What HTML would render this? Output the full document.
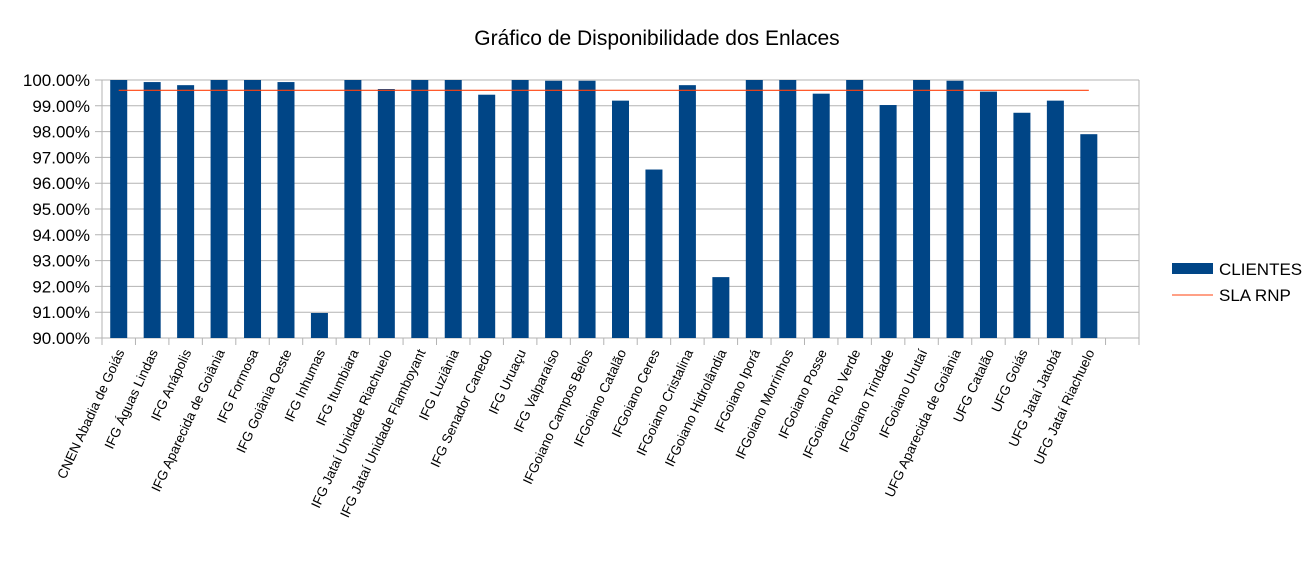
<!DOCTYPE html>
<html><head><meta charset="utf-8"><style>
body{margin:0;background:#fff;font-family:"Liberation Sans",sans-serif}
svg text{font-family:"Liberation Sans",sans-serif;fill:#000}
</style></head><body>
<svg width="1315" height="564">
<text x="657" y="45" font-size="21" text-anchor="middle">Gráfico de Disponibilidade dos Enlaces</text>
<g id="grid"></g><g id="bars"></g><g id="labels"></g>
<g>
<rect x="1172" y="263" width="41" height="11" fill="#004586"/>
<text x="1219" y="275" font-size="17">CLIENTES</text>
<line x1="1172" y1="295" x2="1213" y2="295" stroke="#ff420e" stroke-width="1"/>
<text x="1219" y="301" font-size="17">SLA RNP</text>
</g>
</svg>
<script>
const categories=["CNEN Abadia de Goiás","IFG Águas Lindas","IFG Anápolis","IFG Aparecida de Goiânia","IFG Formosa","IFG Goiânia Oeste","IFG Inhumas","IFG Itumbiara","IFG Jataí Unidade Riachuelo","IFG Jataí Unidade Flamboyant","IFG Luziânia","IFG Senador Canedo","IFG Uruaçu","IFG Valparaíso","IFGoiano Campos Belos","IFGoiano Catalão","IFGoiano Ceres","IFGoiano Cristalina","IFGoiano Hidrolândia","IFGoiano Iporá","IFGoiano Morrinhos","IFGoiano Posse","IFGoiano Rio Verde","IFGoiano Trindade","IFGoiano Urutaí","UFG Aparecida de Goiânia","UFG Catalão","UFG Goiás","UFG Jataí Jatobá","UFG Jataí Riachuelo"];
const clientes=[100,99.92,99.8,100,100,99.92,90.97,100,99.65,100,100,99.43,100,99.97,99.97,99.2,96.53,99.8,92.36,100,100,99.47,100,99.03,100,99.97,99.55,98.73,99.2,97.9];
const slaRnp=99.6;
const yTicks=[90,91,92,93,94,95,96,97,98,99,100];
const NS="http://www.w3.org/2000/svg";
const L=102,R=1139,T=80,B=338,slots=31,sw=(R-L)/slots;
const y=v=>B-(v-90)/10*(B-T);
const x=i=>L+(i+0.5)*sw;
function mk(tag,attrs,parent){const e=document.createElementNS(NS,tag);for(const k in attrs)e.setAttribute(k,attrs[k]);document.getElementById(parent).appendChild(e);return e;}
yTicks.forEach(t=>{
 const g=mk('line',{x1:L-7,x2:R,y1:y(t),y2:y(t),stroke:'#b3b3b3','stroke-width':1},'grid');
 
 
 const tx=mk('text',{x:90,y:y(t)+6,'font-size':17,'text-anchor':'end'},'grid');
 tx.textContent=t.toFixed(2)+'%';
 
 
});
const ax=mk('line',{x1:L,x2:L,y1:T,y2:B+7,stroke:'#b3b3b3'},'grid');


const ax2=mk('line',{x1:R,x2:R,y1:T,y2:B+7,stroke:'#b3b3b3'},'grid');


for(let i=1;i<slots;i++){
 const tk=mk('line',{x1:L+i*sw,x2:L+i*sw,y1:B,y2:B+7,stroke:'#b3b3b3'},'grid');
 
 
}
clientes.forEach((v,i)=>{
 const r=mk('rect',{x:x(i)-8.5,y:y(v),width:17,height:B-y(v),fill:'#004586'},'bars');
 
 
});
const sl=mk('line',{x1:x(0),x2:x(clientes.length-1),y1:y(slaRnp),y2:y(slaRnp),stroke:'#ff420e','stroke-width':1.2},'bars');


categories.forEach((c,i)=>{
 const px=x(i)+6,py=B+14;
 const t=mk('text',{x:px,y:py,'font-size':13.5,'text-anchor':'end',transform:`rotate(-65 ${px} ${py})`},'labels');
 t.textContent=c;
 
 
});
</script>
</body></html>
